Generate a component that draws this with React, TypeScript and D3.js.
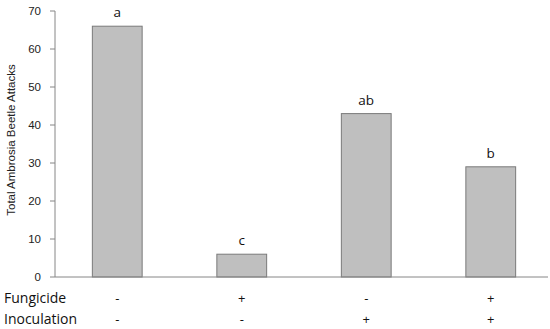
import React from "react";
import * as d3 from "d3";

const categories = ["1", "2", "3", "4"];
const values = [66, 6, 43, 29];
const letters = ["a", "c", "ab", "b"];
const fungicide = ["-", "+", "-", "+"];
const inoculation = ["-", "-", "+", "+"];
const yTicks = [0, 10, 20, 30, 40, 50, 60, 70];

export default function App() {
  const W = 550, H = 329;
  const left = 55, right = 548, top = 11, bottom = 277;
  const x = d3.scaleBand().domain(categories).range([left, 553]).paddingInner(0.6).paddingOuter(0.3);
  const y = d3.scaleLinear().domain([0, 70]).range([bottom, top]);
  const axisColor = "#868686";
  const rowFont = "Open Sans, sans-serif";
  return (
    <svg width={W} height={H} style={{ position: "absolute", left: 0, top: 0 }}>
      <rect width={W} height={H} fill="#fff" />
      {categories.map((c, i) => (
        <g key={c}>
          <rect x={x(c)} y={y(values[i])} width={x.bandwidth()} height={y(0) - y(values[i])}
            fill="#bfbfbf" stroke="#7a7a7a" strokeWidth={1} />
          <text x={x(c)! + x.bandwidth() / 2} y={y(values[i]) - 9} textAnchor="middle"
            fontFamily={rowFont} fontSize={13.5} fill="#111">{letters[i]}</text>
          <text x={x(c)! + x.bandwidth() / 2} y={303} textAnchor="middle"
            fontFamily={rowFont} fontSize={13} fill="#111">{fungicide[i]}</text>
          <text x={x(c)! + x.bandwidth() / 2} y={324} textAnchor="middle"
            fontFamily={rowFont} fontSize={13} fill="#111">{inoculation[i]}</text>
        </g>
      ))}
      <line x1={left} x2={left} y1={top} y2={bottom} stroke={axisColor} />
      <line x1={left} x2={right} y1={bottom} y2={bottom} stroke={axisColor} />
      {yTicks.map(t => (
        <g key={t}>
          <line x1={left - 5} x2={left} y1={y(t)} y2={y(t)} stroke={axisColor} />
          <text x={left - 14} y={y(t) + 4} textAnchor="end" fontFamily="Liberation Sans, Arial, sans-serif"
            fontSize={11.5} fill="#222">{t}</text>
        </g>
      ))}
      <text transform={`translate(15, ${(top + bottom) / 2 - 4}) rotate(-90)`} textAnchor="middle"
        fontFamily="Liberation Sans, Arial, sans-serif" fontSize={11.5} fill="#222">Total Ambrosia Beetle Attacks</text>
      <text x={4} y={303} fontFamily={rowFont} fontSize={14} fill="#111">Fungicide</text>
      <text x={4} y={324} fontFamily={rowFont} fontSize={14} fill="#111">Inoculation</text>
    </svg>
  );
}
